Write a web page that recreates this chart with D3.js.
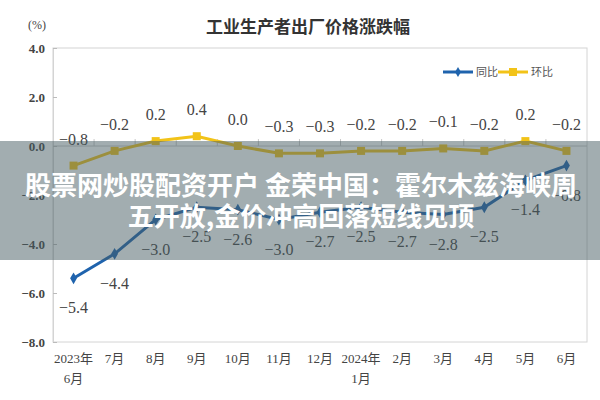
<!DOCTYPE html>
<html><head><meta charset="utf-8">
<script src="https://cdn.jsdelivr.net/npm/d3@7"></script>
<style>body{margin:0;background:#fff}svg{display:block}</style>
</head><body>
<svg id="c" width="600" height="400"></svg>
<script>
const months = ["2023年\n6月","7月","8月","9月","10月","11月","12月","2024年\n1月","2月","3月","4月","5月","6月"];
const yoy = [-5.4,-4.4,-3.0,-2.5,-2.6,-3.0,-2.7,-2.5,-2.7,-2.8,-2.5,-1.4,-0.8];
const mom = [-0.8,-0.2,0.2,0.4,0.0,-0.3,-0.3,-0.2,-0.2,-0.1,-0.2,0.2,-0.2];
const yTicks = [4,2,0,-2,-4,-6,-8];
const seriesNames = ["同比","环比"];
const title = "工业生产者出厂价格涨跌幅";
const unit = "(%)";
const bannerLines = ["股票网炒股配资开户 金荣中国：霍尔木兹海峡周","五开放,金价冲高回落短线见顶"];

const svg = d3.select("#c");
const L=53,R=587,T=48,B=342;
const blue="#1f63ad", gold="#f2c318";
const serif="'Liberation Serif','Times New Roman',serif";
const cjk="'Noto Sans CJK SC','Noto Sans',sans-serif";

const x = d3.scaleBand().domain(d3.range(months.length)).range([L,R]);
const y = d3.scaleLinear().domain([-8,4]).range([B,T]);
const cx = i => x(i)+x.bandwidth()/2;

// title
svg.append("text").attr("x",308).attr("y",33).attr("text-anchor","middle")
  .attr("font-family",cjk).attr("font-weight","bold").attr("font-size",17).attr("fill","#333").text(title);
svg.append("text").attr("x",37).attr("y",29).attr("text-anchor","middle")
  .attr("font-family",serif).attr("font-size",12).attr("fill","#444").text(unit);

// plot border
svg.append("rect").attr("x",L).attr("y",T).attr("width",R-L).attr("height",B-T)
  .attr("fill","none").attr("stroke","#d4d4d4").attr("stroke-width",1);

// y axis
const yAx = svg.append("g").attr("transform",`translate(${L},0)`)
  .call(d3.axisLeft(y).tickValues(yTicks).tickFormat(d3.format(".1f")).tickSize(-4).tickPadding(8));
yAx.select(".domain").attr("stroke","#d4d4d4");
yAx.selectAll(".tick line").attr("stroke","#bbb");
yAx.selectAll("text").attr("font-family",serif).attr("font-size",13).attr("font-weight","bold").attr("fill","#444");

// zero axis with ticks at category boundaries
const y0=y(0);
svg.append("line").attr("x1",L).attr("x2",R).attr("y1",y0).attr("y2",y0).attr("stroke","#c8c8c8");
svg.append("g").selectAll("line").data(d3.range(1,months.length)).join("line")
  .attr("x1",d=>x(d)).attr("x2",d=>x(d)).attr("y1",y0-7).attr("y2",y0).attr("stroke","#c8c8c8");

// x labels
const xl = svg.append("g").selectAll("text").data(months).join("text")
  .attr("x",(d,i)=>cx(i)).attr("y",363).attr("text-anchor","middle")
  .attr("font-family",serif+","+cjk).attr("font-size",13).attr("fill","#444");
xl.each(function(d){
  const parts=d.split("\n");
  d3.select(this).selectAll("tspan").data(parts).join("tspan")
    .attr("x",d3.select(this).attr("x")).attr("dy",(p,j)=>j?20:0).text(p=>p);
});

// lines
const line = d3.line().x((d,i)=>cx(i)).y(d=>y(d));
svg.append("path").datum(mom).attr("d",line).attr("fill","none").attr("stroke",gold).attr("stroke-width",3);
svg.append("g").selectAll("rect").data(mom).join("rect")
  .attr("x",(d,i)=>cx(i)-4).attr("y",d=>y(d)-4).attr("width",8).attr("height",8).attr("fill",gold);
svg.append("path").datum(yoy).attr("d",line).attr("fill","none").attr("stroke",blue).attr("stroke-width",3);
svg.append("g").selectAll("path").data(yoy).join("path")
  .attr("d",d3.symbol(d3.symbolDiamond,40)).attr("transform",(d,i)=>`translate(${cx(i)},${y(d)})`).attr("fill",blue);

// data labels
const fmt=d3.format(".1f");
svg.append("g").selectAll("text").data(mom).join("text")
  .attr("x",(d,i)=>cx(i)).attr("y",d=>y(d)-21).attr("text-anchor","middle")
  .attr("font-family",serif).attr("font-size",16).attr("fill","#444").text(d=>fmt(d));
svg.append("g").selectAll("text").data(yoy).join("text")
  .attr("x",(d,i)=>cx(i)).attr("y",d=>y(d)+35).attr("text-anchor","middle")
  .attr("font-family",serif).attr("font-size",16).attr("fill","#444").text(d=>fmt(d));

// legend
const lg = svg.append("g").attr("transform","translate(443,72)");
const cols=[blue,gold];
seriesNames.forEach((n,k)=>{
  const g=lg.append("g").attr("transform",`translate(${k*55},0)`);
  g.append("line").attr("x1",0).attr("x2",30).attr("y1",0).attr("y2",0).attr("stroke",cols[k]).attr("stroke-width",3);
  if(k===0) g.append("path").attr("d",d3.symbol(d3.symbolDiamond,30)).attr("transform","translate(15,0)").attr("fill",cols[k]);
  else g.append("rect").attr("x",11).attr("y",-4).attr("width",8).attr("height",8).attr("fill",cols[k]);
  g.append("text").attr("x",33).attr("y",4).attr("font-family",cjk).attr("font-size",11).attr("fill","#555").text(n);
});

// overlay banner
svg.append("rect").attr("x",0).attr("y",141).attr("width",600).attr("height",119).attr("fill","rgba(70,92,98,0.5)");
svg.append("g").selectAll("text").data(bannerLines).join("text")
  .attr("x",301).attr("y",(d,i)=>195+i*31).attr("text-anchor","middle")
  .attr("font-family",cjk).attr("font-weight","bold").attr("font-size",26).attr("fill","#fff").text(d=>d);
</script>
</body></html>
